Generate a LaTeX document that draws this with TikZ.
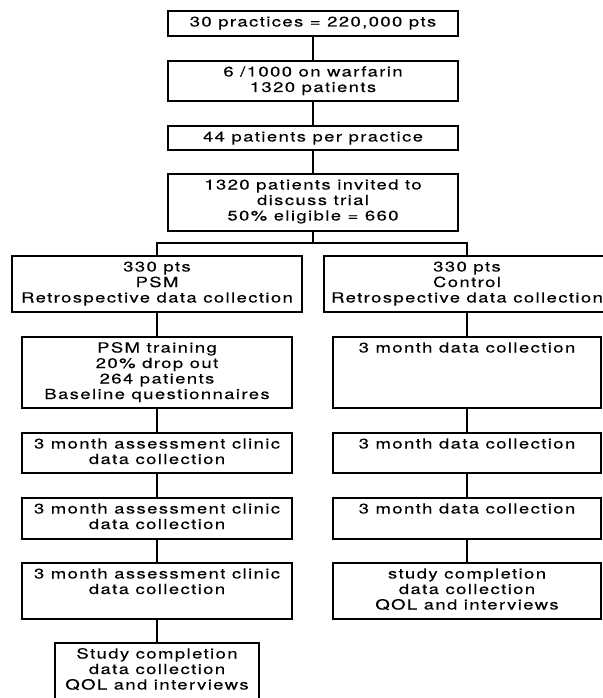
\documentclass[tikz,border=0pt]{standalone}
\usepackage{fontspec}
\setmainfont{TeX Gyre Heros}[FakeStretch=1.32,LetterSpace=10,FakeBold=0.2]
\newcommand\flowtxt[3]{\parbox[c][#2][t]{#1}{\centering\fontsize{14}{15.5}\selectfont\vspace*{4.65pt}\strut #3\strut}}
\tikzset{
  fbox/.style={draw, line width=1.1pt, inner sep=0pt, outer sep=0pt, anchor=north west},
  conn/.style={line width=1.1pt}
}
\begin{document}
\begin{tikzpicture}[x=1pt,y=1pt]
\useasboundingbox (0,0) rectangle (602,-698);
% central column
\node[fbox] (b1) at (168,-11)  {\flowtxt{290pt}{25pt}{30 practices = 220,000 pts}};
\node[fbox] (b2) at (168,-61)  {\flowtxt{290pt}{40pt}{6 /1000 on warfarin\\1320 patients}};
\node[fbox] (b3) at (168,-126) {\flowtxt{290pt}{24pt}{44 patients per practice}};
\node[fbox] (b4) at (168,-174) {\flowtxt{290pt}{57pt}{1320 patients invited to\\discuss trial\\50\% eligible = 660}};
% left column
\node[fbox] (la) at (12,-256)  {\flowtxt{290pt}{56pt}{330 pts\\PSM\\Retrospective data collection}};
\node[fbox] (lb) at (22,-337)  {\flowtxt{270pt}{71pt}{PSM training\\20\% drop out\\264 patients\\Baseline questionnaires}};
\node[fbox] (lc) at (22,-433)  {\flowtxt{270pt}{40pt}{3 month assessment clinic\\data collection}};
\node[fbox] (ld) at (22,-498)  {\flowtxt{270pt}{41pt}{3 month assessment clinic\\data collection}};
\node[fbox] (le) at (22,-563)  {\flowtxt{270pt}{56pt}{3 month assessment clinic\\data collection}};
\node[fbox] (lf) at (55,-643)  {\flowtxt{204pt}{56pt}{Study completion\\data collection\\QOL and interviews}};
% right column
\node[fbox] (ra) at (324,-256) {\flowtxt{286pt}{56pt}{330 pts\\Control\\Retrospective data collection}};
\node[fbox] (rb) at (333,-337) {\flowtxt{268pt}{71pt}{3 month data collection}};
\node[fbox] (rc) at (333,-433) {\flowtxt{268pt}{40pt}{3 month data collection}};
\node[fbox] (rd) at (333,-498) {\flowtxt{268pt}{41pt}{3 month data collection}};
\node[fbox] (re) at (333,-563) {\flowtxt{268pt}{56pt}{study completion\\data collection\\QOL and interviews}};
% connectors
\coordinate (sp) at (b4.south |- 0,-243);
\draw[conn] (b1.south) -- (b2.north);
\draw[conn] (b2.south) -- (b3.north);
\draw[conn] (b3.south) -- (b4.north);
\draw[conn] (b4.south) -- (sp);
\draw[conn] (la.north) -- (la.north |- sp) -- (ra.north |- sp) -- (ra.north);
\draw[conn] (la.south) -- (lb.north);
\draw[conn] (lb.south) -- (lc.north);
\draw[conn] (lc.south) -- (ld.north);
\draw[conn] (ld.south) -- (le.north);
\draw[conn] (le.south) -- (lf.north);
\draw[conn] (ra.south) -- (rb.north);
\draw[conn] (rb.south) -- (rc.north);
\draw[conn] (rc.south) -- (rd.north);
\draw[conn] (rd.south) -- (re.north);
\end{tikzpicture}
\end{document}
